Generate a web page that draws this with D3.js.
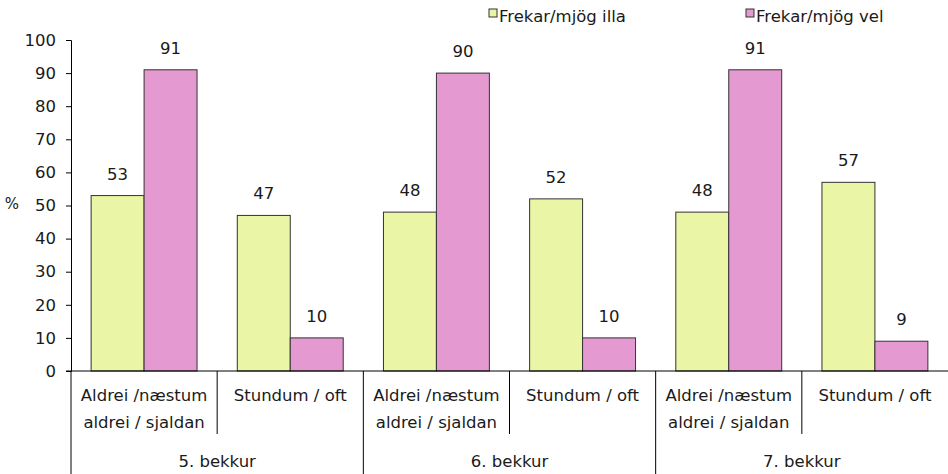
<!DOCTYPE html>
<html>
<head>
    <meta charset="utf-8">
    <title>Bar Chart</title>
    <script src="https://cdn.jsdelivr.net/npm/d3@7"></script>
    <style>
        body { margin: 0; background: #fff; }
        text { font-family: "DejaVu Sans", sans-serif; fill: #1a1a1a; }
    </style>
</head>
<body>
    <div id="chart"></div>
    <script>
        var groups = ["5. bekkur", "6. bekkur", "7. bekkur"];
        var subLabels = [["Aldrei /næstum", "aldrei / sjaldan"], ["Stundum / oft"]];
        var seriesNames = ["Frekar/mjög illa", "Frekar/mjög vel"];
        var illa = [53, 47, 48, 52, 48, 57];
        var vel = [91, 10, 90, 10, 91, 9];
        var yTicks = [0, 10, 20, 30, 40, 50, 60, 70, 80, 90, 100];

        var colors = ["#eaf5a5", "#e599d1"];
        var width = 948, height = 474;
        var plotLeft = 71, plotRight = 948, plotTop = 40, plotBottom = 371;
        var fs = "16.5px";

        var svg = d3.select("#chart").append("svg")
            .attr("width", width)
            .attr("height", height);

        // one band per (group, sub-category)
        var cats = [];
        groups.forEach(function(g, gi) {
            subLabels.forEach(function(s, si) {
                cats.push({ key: gi + "-" + si, group: gi, sub: si });
            });
        });

        var x = d3.scaleBand().domain(cats.map(function(c) { return c.key; }))
            .range([plotLeft, plotRight]).padding(0);
        var xs = d3.scaleBand().domain([0, 1])
            .range([0, x.bandwidth()]).paddingInner(0).paddingOuter(0.38);
        var y = d3.scaleLinear().domain([0, 100]).range([plotBottom, plotTop]);

        var data = [];
        cats.forEach(function(c, i) {
            data.push({ cat: c.key, s: 0, v: illa[i] });
            data.push({ cat: c.key, s: 1, v: vel[i] });
        });

        svg.selectAll("rect.bar").data(data).enter().append("rect")
            .attr("class", "bar")
            .attr("x", function(d) { return x(d.cat) + xs(d.s); })
            .attr("y", function(d) { return y(d.v); })
            .attr("width", xs.bandwidth())
            .attr("height", function(d) { return y(0) - y(d.v); })
            .attr("fill", function(d) { return colors[d.s]; })
            .attr("stroke", "#333")
            .attr("stroke-width", 1);

        svg.selectAll("text.val").data(data).enter().append("text")
            .attr("class", "val")
            .attr("x", function(d) { return x(d.cat) + xs(d.s) + xs.bandwidth() / 2; })
            .attr("y", function(d) { return y(d.v) - 16; })
            .attr("text-anchor", "middle")
            .style("font-size", fs)
            .text(function(d) { return d.v; });

        // y axis
        var yAxis = svg.append("g")
            .attr("transform", "translate(" + plotLeft + ",0)")
            .call(d3.axisLeft(y).tickValues(yTicks).tickSize(5).tickPadding(10));
        yAxis.select(".domain").attr("stroke", "#000");
        yAxis.selectAll("line").attr("stroke", "#000");
        yAxis.selectAll("text").style("font-size", fs)
            .style("font-family", "DejaVu Sans, sans-serif").attr("fill", "#1a1a1a");

        svg.append("text")
            .attr("x", 12).attr("y", 209)
            .attr("text-anchor", "middle")
            .style("font-size", "15px")
            .text("%");

        // x axis line
        svg.append("line")
            .attr("x1", plotLeft - 5).attr("x2", plotRight)
            .attr("y1", plotBottom).attr("y2", plotBottom)
            .attr("stroke", "#000");

        // separators
        cats.forEach(function(c) {
            var x0 = x(c.key);
            svg.append("line")
                .attr("x1", x0).attr("x2", x0)
                .attr("y1", plotBottom).attr("y2", c.sub === 0 ? height : 434)
                .attr("stroke", "#000");
        });

        // sub labels
        cats.forEach(function(c) {
            subLabels[c.sub].forEach(function(t, li) {
                svg.append("text")
                    .attr("x", x(c.key) + x.bandwidth() / 2)
                    .attr("y", 401 + li * 27)
                    .attr("text-anchor", "middle")
                    .style("font-size", fs)
                    .text(t);
            });
        });

        // group labels
        groups.forEach(function(g, gi) {
            svg.append("text")
                .attr("x", x(gi + "-0") + x.bandwidth())
                .attr("y", 467)
                .attr("text-anchor", "middle")
                .style("font-size", fs)
                .text(g);
        });

        // legend
        var legendX = [489, 746];
        seriesNames.forEach(function(n, i) {
            svg.append("rect")
                .attr("x", legendX[i]).attr("y", 9)
                .attr("width", 8).attr("height", 8)
                .attr("fill", colors[i])
                .attr("stroke", "#333");
            svg.append("text")
                .attr("x", legendX[i] + 10).attr("y", 22)
                .style("font-size", fs)
                .text(n);
        });
    </script>
</body>
</html>
